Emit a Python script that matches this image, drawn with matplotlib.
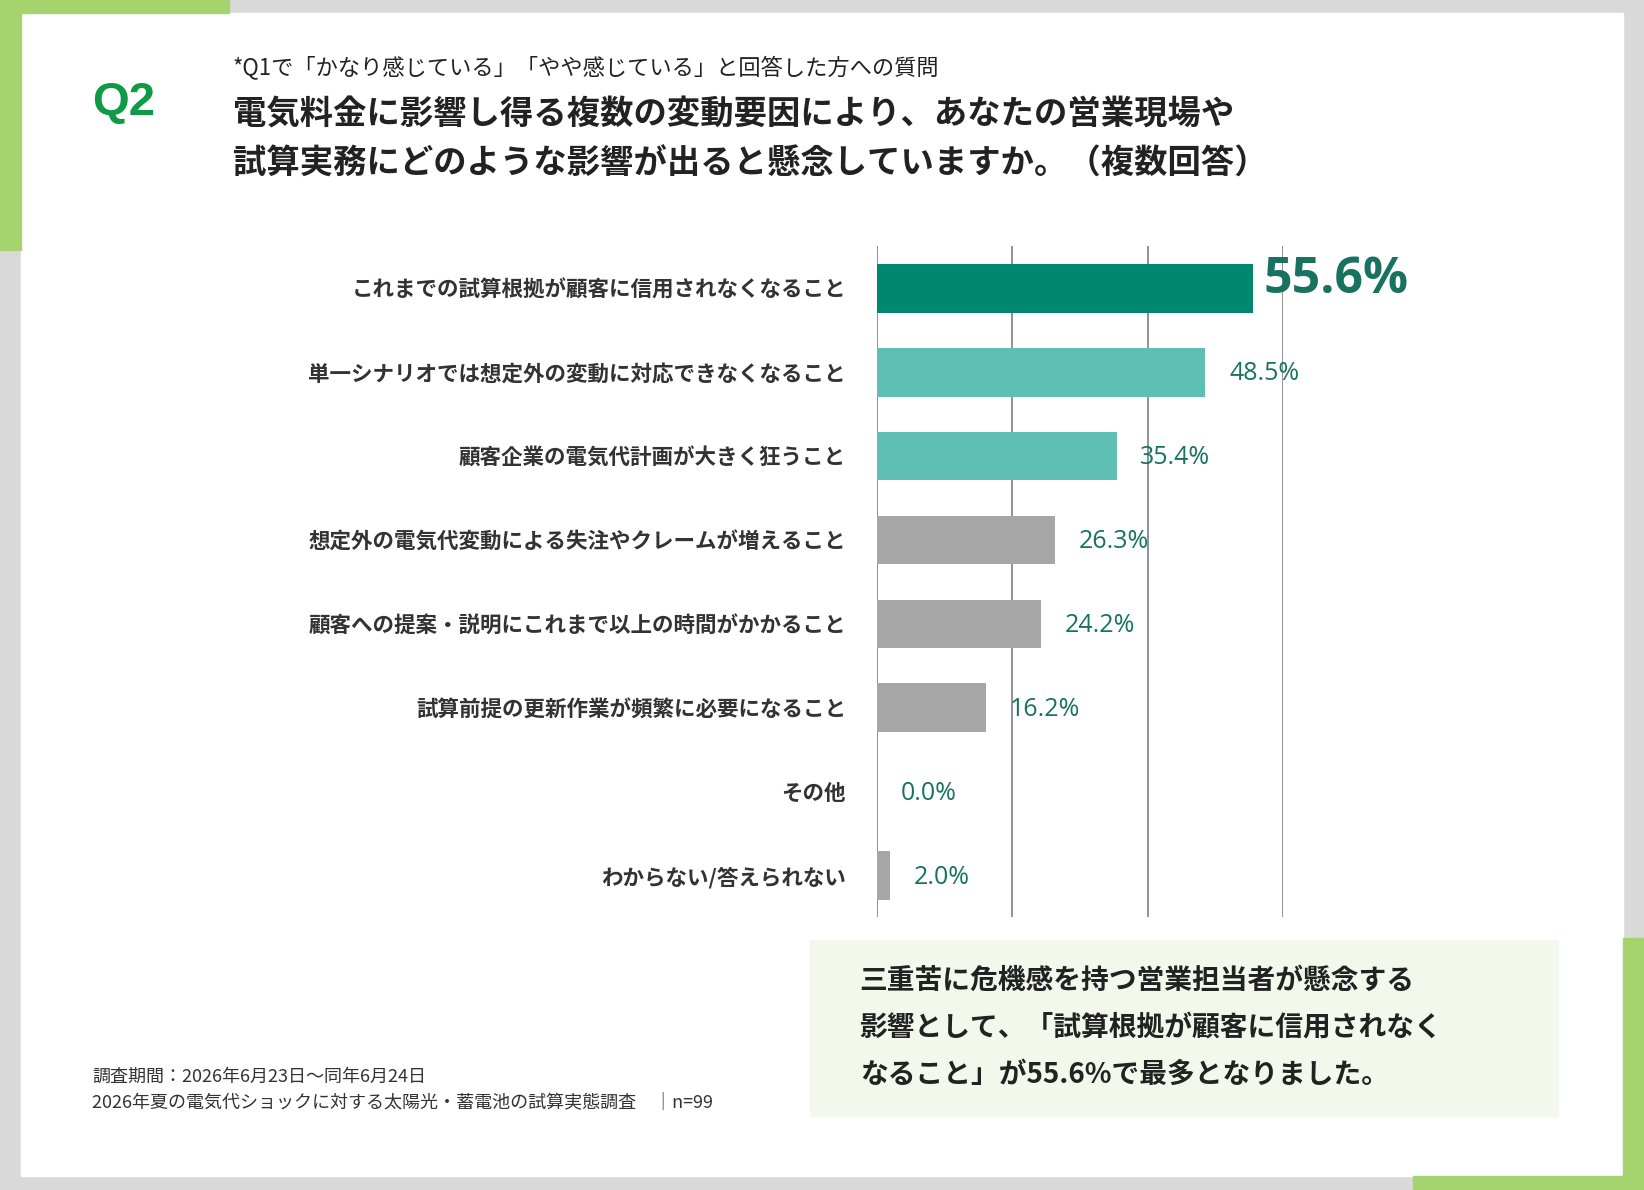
import matplotlib.pyplot as plt
from matplotlib.patches import Rectangle

plt.rcParams['font.family'] = ['Noto Sans CJK JP', 'DejaVu Sans']

categories = [
    "これまでの試算根拠が顧客に信用されなくなること",
    "単一シナリオでは想定外の変動に対応できなくなること",
    "顧客企業の電気代計画が大きく狂うこと",
    "想定外の電気代変動による失注やクレームが増えること",
    "顧客への提案・説明にこれまで以上の時間がかかること",
    "試算前提の更新作業が頻繁に必要になること",
    "その他",
    "わからない/答えられない",
]
values = [55.6, 48.5, 35.4, 26.3, 24.2, 16.2, 0.0, 2.0]
colors = ["#00876f", "#5fbfb5", "#5fbfb5"] + ["#a6a6a6"] * 5

W, H = 1568, 1135
fig = plt.figure(figsize=(16.44, 11.90), dpi=100)
fig.patch.set_facecolor("#d9d9d9")

def rect(x0, y0, x1, y1, c):
    fig.patches.append(Rectangle((x0 / W, 1 - y1 / H), (x1 - x0) / W, (y1 - y0) / H,
                                 transform=fig.transFigure, color=c, zorder=0))

rect(20, 12, 1548, 1122, "white")
green = "#a5d46f"
rect(0, 0, 218, 12, green)
rect(0, 0, 20, 238, green)
rect(1548, 895, 1568, 1135, green)
rect(1348, 1122, 1568, 1135, green)
rect(773, 897, 1486, 1064, "#f2f8ec")

def txt(x, y, s, **kw):
    fig.text(x / W, 1 - y / H, s, zorder=6, **kw)

txt(88, 98, "Q2", fontsize=34, color="#109a48", fontweight="bold", va="center", family="Liberation Sans")
txt(222, 65, "*Q1で「かなり感じている」「やや感じている」と回答した方への質問", fontsize=16, va="center", color="#222")
txt(222, 110, "電気料金に影響し得る複数の変動要因により、あなたの営業現場や", fontsize=24, fontweight="bold", va="center", color="#222")
txt(222, 157, "試算実務にどのような影響が出ると懸念していますか。（複数回答）", fontsize=24, fontweight="bold", va="center", color="#222")

ax = fig.add_axes([836 / W, 1 - 875 / H, (1224 - 836) / W, (875 - 235) / H])
ax.set_zorder(5)
ax.patch.set_visible(False)
y = list(range(len(values)))
ax.barh(y, values, height=0.58, color=colors, zorder=2)
ax.set_xlim(0, 60)
ax.set_ylim(len(values) - 0.5, -0.5)
ax.set_xticks([0, 20, 40, 60])
ax.grid(axis="x", color="#7f7f7f", lw=1.2, zorder=1)
ax.tick_params(length=0, labelbottom=False)
ax.set_yticks(y)
ax.set_yticklabels(categories, fontsize=15.5, fontweight="bold", color="#333")
ax.tick_params(axis="y", pad=22)
for s in ax.spines.values():
    s.set_visible(False)
for i, v in enumerate(values):
    if i == 0:
        ax.text(v + 1.5, i - 0.1, f"{v:.1f}%", fontsize=36, fontweight="bold", color="#17735f",
                va="center", clip_on=False, family="Open Sans")
    else:
        ax.text(v + 3.5, i + 0.02, f"{v:.1f}%", fontsize=18, color="#17735f",
                va="center", clip_on=False, family="Open Sans")

txt(820, 935, "三重苦に危機感を持つ営業担当者が懸念する", fontsize=20, fontweight="bold", va="center", color="#222")
txt(820, 980, "影響として、「試算根拠が顧客に信用されなく", fontsize=20, fontweight="bold", va="center", color="#222")
txt(820, 1025, "なること」が55.6%で最多となりました。", fontsize=20, fontweight="bold", va="center", color="#222")

txt(88, 1027, "調査期間：2026年6月23日～同年6月24日", fontsize=13, va="center", color="#333")
txt(88, 1052, "2026年夏の電気代ショックに対する太陽光・蓄電池の試算実態調査　│n=99", fontsize=13, va="center", color="#333")

fig.savefig("out.png", dpi=100, facecolor=fig.get_facecolor())
